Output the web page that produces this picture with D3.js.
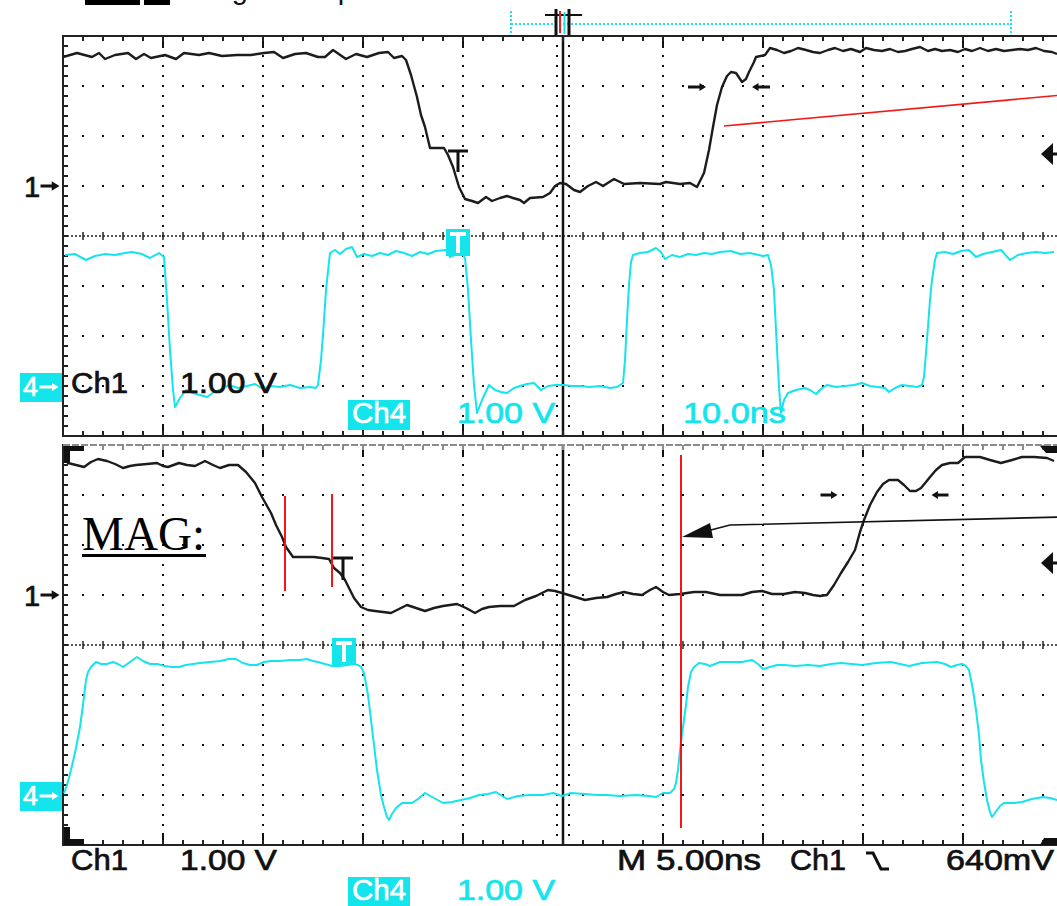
<!DOCTYPE html>
<html>
<head>
<meta charset="utf-8">
<script src="https://cdnjs.cloudflare.com/ajax/libs/d3/7.8.5/d3.min.js"></script>
<style>
body { margin: 0; background: #fff; }
text { font-family: "Liberation Sans", Arial, sans-serif; }
</style>
</head>
<body>
<script>
//settings
var topNsPerDiv = 10,
    magNsPerDiv = 5,
    ch1Pos = 1, //divisions above centre
    ch4Pos = -3,
    trigLevel = 0.64 //volts, 1 V/div

//top acquisition, [ns, volts]
var topCh1 = [[-50,2.58],[-48.6,2.66],[-47.1,2.58],[-46.4,2.66],[-45.8,2.54],[-44.8,2.62],[-43.5,2.66],[-42.7,2.54],
  [-41.9,2.64],[-41.2,2.56],[-39.8,2.62],[-38.7,2.54],[-37.9,2.66],[-36.4,2.62],[-35.4,2.66],[-34.1,2.6],[-32.6,2.62],
  [-31.2,2.62],[-29.9,2.66],[-28.9,2.68],[-28,2.56],[-26.8,2.64],[-25.7,2.66],[-24.5,2.58],[-23.8,2.58],[-23,2.72],
  [-21.7,2.54],[-20.7,2.64],[-19.6,2.58],[-18.4,2.66],[-17.5,2.68],[-16.9,2.56],[-16.1,2.6],[-15.7,2.52],[-15.2,2.22],
  [-14.6,1.78],[-14.2,1.42],[-13.8,1.18],[-13.3,0.76],[-11.9,0.76],[-11.5,0.62],[-11,0.38],[-10.4,-0.02],[-9.8,-0.26],
  [-9.1,-0.3],[-8.5,-0.34],[-7.7,-0.22],[-7.1,-0.3],[-6.3,-0.24],[-5.6,-0.2],[-5,-0.24],[-4.3,-0.28],[-3.9,-0.34],
  [-3.3,-0.24],[-2,-0.22],[-1.3,-0.14],[-0.8,0],[-0.3,0.06],[0.3,0.04],[1.1,-0.08],[1.7,-0.12],[2.5,0],[3.3,0.08],
  [4,0],[5.1,0.14],[6.1,0.04],[7.7,0.06],[9.7,0.04],[10.3,0.08],[11.7,0.04],[12.7,0.06],[13.4,-0.02],[14.1,0.26],
  [14.6,0.72],[15,1.18],[15.4,1.62],[15.9,1.98],[16.4,2.2],[16.8,2.28],[17.3,2.26],[17.9,2.08],[18.3,2.14],[18.6,2.28],
  [19.1,2.48],[19.3,2.58],[20.2,2.62],[20.7,2.76],[21.4,2.72],[22.1,2.66],[22.8,2.7],[23.5,2.76],[24.3,2.72],[25,2.68],
  [25.7,2.66],[26.5,2.72],[27.2,2.76],[28,2.7],[28.8,2.74],[29.7,2.68],[30.3,2.76],[31.1,2.72],[31.9,2.7],[32.7,2.74],
  [33.5,2.68],[34.2,2.7],[34.9,2.74],[35.7,2.78],[36.5,2.7],[37.2,2.74],[37.9,2.7],[38.7,2.72],[39.5,2.68],[40.2,2.74],
  [40.9,2.7],[41.7,2.76],[42.5,2.7],[43.3,2.74],[44.1,2.7],[44.9,2.72],[45.7,2.74],[46.5,2.72],[47.3,2.76],[48.1,2.7],
  [48.9,2.68],[49.4,2.64]]

var topCh4 = [[-49.8,2.62],[-48.8,2.64],[-47.7,2.52],[-46.8,2.6],[-45.8,2.64],[-44.8,2.62],[-43.8,2.66],[-43.1,2.68],
  [-42.1,2.64],[-41.3,2.56],[-40.4,2.66],[-39.9,2.58],[-39.6,1.72],[-39.3,0.72],[-39,-0.08],[-38.8,-0.42],[-38.3,-0.24],
  [-37.7,-0.08],[-37,-0.14],[-36.3,-0.18],[-35.6,-0.22],[-34.9,-0.12],[-34.1,-0.06],[-33.4,0.02],[-32.5,-0.04],[-31.6,0],
  [-30.8,0.04],[-30,-0.06],[-29.3,0],[-28.3,-0.02],[-27.3,0.02],[-26.3,-0.04],[-25.3,-0.02],[-24.7,-0.04],[-24.5,0.02],
  [-24.2,0.52],[-24,1.02],[-23.7,1.92],[-23.3,2.66],[-22.8,2.72],[-22.3,2.64],[-21.7,2.74],[-21.1,2.78],[-20.6,2.58],
  [-19.9,2.64],[-19.1,2.6],[-18.3,2.66],[-17.5,2.62],[-16.7,2.7],[-15.9,2.66],[-15.1,2.6],[-14.3,2.68],[-13.5,2.64],
  [-12.7,2.7],[-11.7,2.72],[-11.3,2.58],[-10.7,2.64],[-10.1,2.64],[-9.8,2.56],[-9.5,1.92],[-9.2,0.92],[-8.9,0.02],
  [-8.6,-0.54],[-8.1,-0.28],[-7.4,0.02],[-6.8,-0.08],[-6.2,-0.12],[-5.6,-0.14],[-4.9,-0.04],[-4.3,0],[-3.6,0.04],
  [-2.9,0.06],[-2.2,-0.08],[-1.5,0],[-0.7,0.02],[0.1,0.02],[0.9,0],[1.7,0],[2.7,-0.02],[3.7,0],[4.7,-0.04],[5.4,-0.02],
  [6,0.06],[6.2,0.52],[6.4,1.32],[6.6,2.02],[6.8,2.48],[7,2.62],[7.7,2.66],[8.5,2.68],[9.3,2.76],[9.8,2.68],[10.2,2.54],
  [10.9,2.62],[11.7,2.58],[12.5,2.64],[13.3,2.62],[14.1,2.66],[14.9,2.64],[15.7,2.68],[16.8,2.7],[17.7,2.64],[18.7,2.66],
  [20,2.6],[20.5,2.62],[20.8,2.42],[21.1,1.92],[21.3,1.12],[21.6,-0.02],[21.8,-0.54],[22.1,-0.28],[22.5,-0.14],
  [23.3,-0.08],[24.2,-0.04],[24.7,-0.08],[25.3,-0.16],[25.8,-0.06],[26.4,0.02],[27.3,-0.02],[28.2,0],[29.1,0.02],
  [29.9,0.06],[30.7,0],[31.5,-0.02],[32.2,-0.04],[32.6,-0.12],[33.2,-0.04],[33.9,0.02],[34.7,0],[35.4,-0.02],[35.9,0.02],
  [36.1,0.18],[36.4,0.92],[36.7,1.72],[36.9,2.12],[37.2,2.52],[37.4,2.66],[38.2,2.68],[39,2.64],[39.8,2.7],[40.6,2.72],
  [41.3,2.58],[42,2.64],[42.9,2.68],[43.8,2.72],[44.7,2.52],[45.5,2.62],[46.4,2.66],[47.3,2.68],[48.2,2.66],[49.1,2.68]]

//magnified view, [ns, volts]
var magCh1 = [[-24.85,2.7],[-24.75,2.64],[-24.35,2.6],[-23.95,2.56],[-23.6,2.66],[-23.25,2.72],[-22.8,2.68],[-22.4,2.62],
  [-22,2.54],[-21.65,2.58],[-21.35,2.6],[-20.8,2.62],[-20.3,2.64],[-20,2.58],[-19.75,2.56],[-19.2,2.64],[-18.8,2.6],
  [-18.4,2.58],[-17.9,2.68],[-17.5,2.6],[-17.15,2.54],[-16.7,2.6],[-16.25,2.6],[-15.85,2.46],[-15.4,2.24],[-15.05,1.96],
  [-14.6,1.64],[-14.35,1.4],[-14.05,1.16],[-13.85,0.96],[-13.5,0.76],[-13,0.76],[-12.45,0.76],[-12.05,0.74],[-11.7,0.72],
  [-11.45,0.54],[-11.15,0.44],[-10.9,0.3],[-10.65,0.1],[-10.45,-0.06],[-10.1,-0.24],[-9.75,-0.3],[-9.4,-0.32],
  [-8.6,-0.36],[-8.2,-0.28],[-7.8,-0.2],[-7.35,-0.26],[-6.9,-0.32],[-6.45,-0.26],[-6,-0.22],[-5.3,-0.18],[-4.85,-0.26],
  [-4.4,-0.36],[-4.05,-0.28],[-3.7,-0.24],[-3.15,-0.22],[-2.45,-0.22],[-1.9,-0.1],[-1.35,-0.02],[-0.75,0.1],[-0.4,0.08],
  [-0.05,0.04],[0.45,-0.02],[1.1,-0.1],[1.65,-0.06],[2.2,-0.04],[2.65,0.02],[3.05,0.06],[3.5,0.02],[3.95,0],[4.35,0.1],
  [4.65,0.16],[5,0.06],[5.3,0],[5.85,0.02],[6.55,0.06],[7.15,0.06],[7.85,0],[8.4,0],[8.95,0],[9.45,0.06],[9.95,0.08],
  [10.45,0.02],[11.05,0.02],[11.6,0.06],[12.1,0.04],[12.5,0],[12.85,-0.02],[13.2,0],[13.55,0.2],[13.9,0.44],[14.25,0.66],
  [14.6,0.9],[14.85,1.26],[15.05,1.5],[15.35,1.8],[15.7,2.06],[16,2.22],[16.3,2.3],[16.75,2.3],[17.05,2.2],[17.35,2.08],
  [17.65,2.08],[17.9,2.14],[18.15,2.26],[18.35,2.36],[18.65,2.5],[18.95,2.6],[19.35,2.64],[19.75,2.64],[20.1,2.76],
  [20.45,2.76],[20.85,2.76],[21.35,2.7],[21.9,2.64],[22.45,2.7],[22.95,2.76],[23.55,2.76],[24.2,2.74],[24.55,2.68]]

var magCh4 = [[-24.95,0.04],[-24.8,0.2],[-24.6,0.5],[-24.35,0.94],[-24.15,1.36],[-24,1.8],[-23.85,2.3],[-23.75,2.46],
  [-23.6,2.56],[-23.35,2.66],[-23.1,2.62],[-22.8,2.62],[-22.5,2.66],[-22.25,2.62],[-22,2.56],[-21.65,2.66],[-21.3,2.76],
  [-21,2.68],[-20.65,2.62],[-20.3,2.62],[-19.9,2.58],[-19.55,2.56],[-19.2,2.56],[-18.85,2.6],[-18.5,2.62],[-18.15,2.64],
  [-17.65,2.66],[-17.15,2.68],[-16.7,2.72],[-16.35,2.72],[-16,2.64],[-15.65,2.6],[-15.3,2.6],[-14.95,2.66],[-14.6,2.68],
  [-14.15,2.68],[-13.65,2.7],[-13.15,2.7],[-12.8,2.72],[-12.5,2.68],[-12.25,2.66],[-11.9,2.62],[-11.55,2.58],
  [-11.15,2.58],[-10.8,2.6],[-10.45,2.62],[-10.25,2.6],[-10.1,2.56],[-9.95,2.44],[-9.75,2],[-9.6,1.5],[-9.45,1],
  [-9.3,0.5],[-9.1,0],[-8.95,-0.24],[-8.8,-0.44],[-8.7,-0.5],[-8.55,-0.38],[-8.35,-0.26],[-8.05,-0.16],[-7.55,-0.16],
  [-7.25,-0.08],[-6.9,0.04],[-6.45,-0.06],[-6,-0.16],[-5.55,-0.14],[-5.1,-0.1],[-4.65,-0.06],[-4.2,0],[-3.75,0.02],
  [-3.35,0.06],[-2.8,-0.08],[-2.25,-0.02],[-1.65,0],[-1,0],[-0.5,0.04],[-0.05,-0.02],[0.4,0.04],[1.1,0.02],[1.7,0],
  [2.2,0],[2.85,-0.02],[3.6,0],[4.3,-0.02],[4.65,-0.04],[5,0.04],[5.35,0.04],[5.55,0.12],[5.65,0.24],[5.75,0.5],
  [5.85,0.9],[6,1.36],[6.15,1.8],[6.25,2.16],[6.4,2.46],[6.55,2.56],[6.8,2.64],[7.1,2.62],[7.35,2.58],[7.6,2.62],
  [7.85,2.66],[8.35,2.66],[8.95,2.66],[9.45,2.7],[9.75,2.62],[10,2.52],[10.35,2.56],[10.7,2.6],[11.05,2.6],[11.6,2.58],
  [12.25,2.6],[12.85,2.58],[13.4,2.62],[13.9,2.64],[14.45,2.62],[14.95,2.6],[15.65,2.64],[16.4,2.66],[16.85,2.62],
  [17.3,2.58],[17.95,2.64],[18.7,2.66],[19.1,2.62],[19.4,2.56],[19.7,2.6],[19.95,2.62],[20.15,2.58],[20.3,2.5],
  [20.5,2.1],[20.65,1.7],[20.8,1.2],[20.9,0.7],[21.05,0.26],[21.2,-0.1],[21.35,-0.34],[21.45,-0.44],[21.6,-0.36],
  [21.7,-0.3],[21.85,-0.22],[22.05,-0.16],[22.5,-0.16],[22.95,-0.14],[23.45,-0.08],[24,-0.04],[24.35,-0.06],[24.7,-0.1]]

//readout texts
var topReadout = ['Ch1', '1.00 V', 'Ch4', '1.00 V', '10.0ns']
var magReadout = ['Ch1', '1.00 V', 'Ch4', '1.00 V', 'M 5.00ns', 'Ch1', '640mV']

//annotation points, [ns, divisions]
var topCursorLine = [[16.1, 2.2], [50, 2.82]]
var magCursors = [[-13.9, 2.98, 1.08], [-11.55, 3.02, 1.16], [5.9, 3.8, -3.66]]
var magPointer = [[25, 2.56], [8.35, 2.4], [7.2, 2.28]]

var W = 1057, H = 906
var cyan = '#14e4ec'

var svg = d3.select('body').append('svg')
    .attr('width', W)
    .attr('height', H)

svg.append('rect').attr('width', W).attr('height', H).attr('fill', '#fff')

function makePanel(top, nsPerDiv, id) {
    var p = {top: top, bottom: top + 400, id: id}
    p.gx = d3.scaleLinear().domain([-5, 5]).range([63, 1063])
    p.gy = d3.scaleLinear().domain([-4, 4]).range([top + 400, top])
    p.x = d3.scaleLinear().domain([-5 * nsPerDiv, 5 * nsPerDiv]).range([63, 1063])
    svg.append('clipPath').attr('id', id).append('rect')
        .attr('x', 63).attr('y', top).attr('width', 1000).attr('height', 400)
    return p
}

var P1 = makePanel(36, topNsPerDiv, 'c1'),
    P2 = makePanel(445, magNsPerDiv, 'c2')

//graticule: dotted divisions, ticked centre lines, ticked frame
function drawGrid(p, frameTop) {
    var g = svg.append('g')
    var dots = []
    d3.range(-4, 5).forEach(function(i) {
        if (i == 0) return
        d3.range(1, 40).forEach(function(k) { dots.push([p.gx(i), p.gy(-4 + k * 0.2)]) })
    })
    d3.range(-3, 4).forEach(function(j) {
        if (j == 0) return
        d3.range(1, 50).forEach(function(k) { dots.push([p.gx(-5 + k * 0.2), p.gy(j)]) })
    })
    //dots flanking the centre vertical
    d3.range(1, 40).forEach(function(k) {
        dots.push([p.gx(0) - 6, p.gy(-4 + k * 0.2)])
        dots.push([p.gx(0) + 6, p.gy(-4 + k * 0.2)])
    })
    g.selectAll('rect.dot').data(dots).enter().append('rect')
        .attr('x', function(d) { return d[0] - 1 })
        .attr('y', function(d) { return d[1] - 1 })
        .attr('width', 2).attr('height', 2)
        .attr('fill', '#111')

    //centre horizontal
    g.append('line')
        .attr('x1', p.gx(-5)).attr('x2', W).attr('y1', p.gy(0)).attr('y2', p.gy(0))
        .attr('stroke', '#222').attr('stroke-width', 1.5).attr('stroke-dasharray', '2,2')
    g.selectAll('line.ct').data(d3.range(1, 50)).enter().append('line')
        .attr('x1', function(k) { return p.gx(-5 + k * 0.2) })
        .attr('x2', function(k) { return p.gx(-5 + k * 0.2) })
        .attr('y1', p.gy(0) - 4).attr('y2', p.gy(0) + 4)
        .attr('stroke', '#222').attr('stroke-width', 1.5)

    //centre vertical
    g.append('line')
        .attr('x1', p.gx(0)).attr('x2', p.gx(0)).attr('y1', p.top).attr('y2', p.bottom)
        .attr('stroke', '#111').attr('stroke-width', 2.5)

    //major marks next to the top and bottom edges
    g.selectAll('line.mj').data([-4, -3, -2, -1, 1, 2, 3, 4]).enter().append('path')
        .attr('d', function(i) {
            var x = p.gx(i)
            return 'M' + x + ',' + (p.top + 3) + 'V' + (p.top + 12) + 'M' + x + ',' + (p.bottom - 12) + 'V' + (p.bottom - 3)
        })
        .attr('stroke', '#111').attr('stroke-width', 2)

    //frame
    g.append('path')
        .attr('d', 'M' + W + ',' + p.top + 'H63V' + p.bottom + 'H' + W)
        .attr('fill', 'none').attr('stroke', '#222').attr('stroke-width', 2)
    if (!frameTop) {
        g.append('line')
            .attr('x1', 63).attr('x2', W).attr('y1', p.top).attr('y2', p.top)
            .attr('stroke', '#fff').attr('stroke-width', 2.2)
        g.append('line')
            .attr('x1', 63).attr('x2', W).attr('y1', p.top).attr('y2', p.top)
            .attr('stroke', '#8c8c8c').attr('stroke-width', 2).attr('stroke-dasharray', '7,2')
    }
    var ticks = g.append('g').attr('stroke', '#222').attr('stroke-width', 2)
    d3.range(1, 40).forEach(function(k) {
        var y = p.gy(-4 + k * 0.2)
        ticks.append('line').attr('x1', 63).attr('x2', 68).attr('y1', y).attr('y2', y)
    })
    d3.range(1, 50).forEach(function(k) {
        var x = p.gx(-5 + k * 0.2)
        ticks.append('line').attr('x1', x).attr('x2', x).attr('y1', p.top).attr('y2', p.top + 5)
            .attr('stroke', frameTop ? '#222' : '#8c8c8c')
        ticks.append('line').attr('x1', x).attr('x2', x).attr('y1', p.bottom - 5).attr('y2', p.bottom)
    })
}

drawGrid(P1, true)
drawGrid(P2, false)

function drawTrace(p, data, pos, color, width) {
    var line = d3.line()
        .x(function(d) { return p.x(d[0]) })
        .y(function(d) { return p.gy(d[1] + pos) })
    svg.append('path')
        .datum(data)
        .attr('clip-path', 'url(#' + p.id + ')')
        .attr('d', line)
        .attr('fill', 'none')
        .attr('stroke', color)
        .attr('stroke-width', width)
        .attr('stroke-linejoin', 'round')
}

drawTrace(P1, topCh4, ch4Pos, cyan, 2)
drawTrace(P1, topCh1, ch1Pos, '#1c1c1c', 2.4)
drawTrace(P2, magCh4, ch4Pos, cyan, 2)
drawTrace(P2, magCh1, ch1Pos, '#1c1c1c', 2.4)

//small helpers
function label(txt, x, y, w, color, size, family) {
    var t = svg.append('text')
        .attr('x', x).attr('y', y)
        .attr('fill', color)
        .attr('stroke', color)
        .attr('stroke-width', family ? 0 : 0.7)
        .style('font-size', size + 'px')
        .text(txt)
    if (w) t.attr('textLength', w).attr('lengthAdjust', 'spacingAndGlyphs')
    if (family) t.style('font-family', family)
    return t
}

function arrow(x, y, dir, len, color, head) {
    //dir 1 = pointing right, -1 = pointing left
    var tip = x + dir * len / 2, tail = x - dir * len / 2
    svg.append('line')
        .attr('x1', tail).attr('x2', tip - dir * head).attr('y1', y).attr('y2', y)
        .attr('stroke', color).attr('stroke-width', 3)
    svg.append('path')
        .attr('d', 'M' + tip + ',' + y + 'L' + (tip - dir * head * 1.3) + ',' + (y - head * 0.8) +
            'L' + (tip - dir * head * 1.3) + ',' + (y + head * 0.8) + 'Z')
        .attr('fill', color)
}

function triggerT(p, t, d1, d2) {
    var x = p.x(t), y1 = p.gy(d1), y2 = p.gy(d2)
    svg.append('path')
        .attr('d', 'M' + (x - 10) + ',' + y1 + 'H' + (x + 10) + 'M' + x + ',' + y1 + 'V' + y2)
        .attr('stroke', '#111').attr('stroke-width', 3).attr('fill', 'none')
}

function trigBox(p, t) {
    var x = p.x(t), y1 = p.gy(0.14), y2 = p.gy(-0.4)
    svg.append('rect').attr('x', x - 12).attr('y', y1).attr('width', 24).attr('height', y2 - y1).attr('fill', cyan)
    svg.append('path')
        .attr('d', 'M' + (x - 8) + ',' + (y1 + 5) + 'H' + (x + 8) + 'M' + x + ',' + (y1 + 5) + 'V' + (y2 - 3))
        .attr('stroke', '#fff').attr('stroke-width', 4).attr('fill', 'none')
}

function levelArrow(p, d) {
    var y = p.gy(d)
    svg.append('path')
        .attr('d', 'M1041,' + y + 'L1053,' + (y - 11) + 'L1053,' + (y + 11) + 'Z')
        .attr('fill', '#111')
    svg.append('line').attr('x1', 1050).attr('x2', W).attr('y1', y).attr('y2', y)
        .attr('stroke', '#111').attr('stroke-width', 3)
}

function groundMark(p, d, txt, boxed) {
    var y = p.gy(d)
    if (boxed) {
        svg.append('rect').attr('x', 20).attr('y', y - 13).attr('width', 42).attr('height', 29).attr('fill', cyan)
        label(txt, 23, y + 10, null, '#fff', 27)
        arrow(49, y + 1, 1, 19, '#fff', 5)
    } else {
        label(txt, 24, y + 11, null, '#111', 29)
        arrow(50, y, 1, 19, '#111', 6)
    }
}

//top panel annotations
svg.append('path')
    .datum(topCursorLine)
    .attr('d', d3.line().x(function(d) { return P1.x(d[0]) }).y(function(d) { return P1.gy(d[1]) }))
    .attr('stroke', '#f21818').attr('stroke-width', 1.6).attr('fill', 'none')
triggerT(P1, -10.5, 1.7, 1.28)
trigBox(P1, -10.5)
arrow(P1.x(13.4), P1.gy(2.98), 1, 18, '#111', 5)
arrow(P1.x(19.8), P1.gy(2.98), -1, 18, '#111', 5)
levelArrow(P1, ch1Pos + trigLevel)
groundMark(P1, ch1Pos, '1', false)
groundMark(P1, ch4Pos, '4', true)

//magnified panel annotations
magCursors.forEach(function(c) {
    svg.append('line')
        .attr('x1', P2.x(c[0])).attr('x2', P2.x(c[0]))
        .attr('y1', P2.gy(c[1])).attr('y2', P2.gy(c[2]))
        .attr('stroke', '#f21818').attr('stroke-width', 2)
})
svg.append('path')
    .datum(magPointer)
    .attr('d', d3.line().x(function(d) { return P2.x(d[0]) }).y(function(d) { return P2.gy(d[1]) }))
    .attr('stroke', '#111').attr('stroke-width', 1.6).attr('fill', 'none')
svg.append('path')
    .attr('d', 'M' + P2.x(5.95) + ',' + P2.gy(2.16) + 'L' + P2.x(7.35) + ',' + P2.gy(2.44) + 'L' + P2.x(7.5) + ',' + P2.gy(2.14) + 'Z')
    .attr('fill', '#111')
triggerT(P2, -11.0, 1.74, 1.3)
trigBox(P2, -10.95)
arrow(P2.x(13.3), P2.gy(3.0), 1, 17, '#111', 5)
arrow(P2.x(18.85), P2.gy(3.0), -1, 17, '#111', 5)
levelArrow(P2, ch1Pos + trigLevel)
groundMark(P2, ch1Pos, '1', false)
groundMark(P2, ch4Pos, '4', true)

//corner brackets of the magnified window
svg.append('path').attr('d', 'M64,446H84V451H70V463H64Z').attr('fill', '#111')
svg.append('path').attr('d', 'M64,827H70V839H84V845H64Z').attr('fill', '#111')
svg.append('path').attr('d', 'M1040,446H1057V453H1046Z').attr('fill', '#111')
svg.append('path').attr('d', 'M1044,838H1057V845H1040Z').attr('fill', '#111')

label('MAG:', 82, 550, 123, '#000', 48, '"Liberation Serif", "Times New Roman", serif')
svg.append('rect').attr('x', 82).attr('y', 554).attr('width', 124).attr('height', 3).attr('fill', '#000')

//readouts
function readout(top, texts, base) {
    label(texts[0], 71, base, 57, '#111', 29)
    label(texts[1], 180, base, 97, '#111', 29)
    svg.append('rect').attr('x', 348).attr('y', base + 7).attr('width', 62).attr('height', 30).attr('fill', cyan)
    label(texts[2], 352, base + 30, 54, '#fff', 29)
    label(texts[3], 457, base + 30, 98, cyan, 29)
}
readout(P1, topReadout, 393)
label(topReadout[4], 683, 423, 103, cyan, 29)
readout(P2, magReadout, 870)
label(magReadout[4], 617, 870, 144, '#111', 29)
label(magReadout[5], 790, 870, 56, '#111', 29)
svg.append('path').attr('d', 'M866,853H873L881,869H889')
    .attr('stroke', '#111').attr('stroke-width', 3).attr('fill', 'none')
label(magReadout[6], 946, 870, 108, '#111', 29)

//status line above the screen, cut off by the top edge in the photo
svg.append('rect').attr('x', 85).attr('y', -2).attr('width', 55).attr('height', 7).attr('fill', '#000')
svg.append('rect').attr('x', 144).attr('y', -2).attr('width', 26).attr('height', 7).attr('fill', '#000')
label("Trig'd", 199, -1, null, '#111', 29).attr('stroke-width', 0)
label('Sample', 278, -1, null, '#111', 29).attr('stroke-width', 0)

//record window and trigger position
svg.append('path')
    .attr('d', 'M511,11V34M511,24H1011M1011,11V34')
    .attr('stroke', cyan).attr('stroke-width', 2).attr('stroke-dasharray', '2,2').attr('fill', 'none')
svg.append('line').attr('x1', 545).attr('x2', 582).attr('y1', 15).attr('y2', 15)
    .attr('stroke', '#111').attr('stroke-width', 2)
svg.append('path').attr('d', 'M556,9V35M569,9V35').attr('stroke', '#111').attr('stroke-width', 3)
svg.append('path').attr('d', 'M560,11V33').attr('stroke', '#f21818').attr('stroke-width', 2)
svg.append('path').attr('d', 'M564.5,12V34').attr('stroke', cyan).attr('stroke-width', 2)
</script>
</body>
</html>
